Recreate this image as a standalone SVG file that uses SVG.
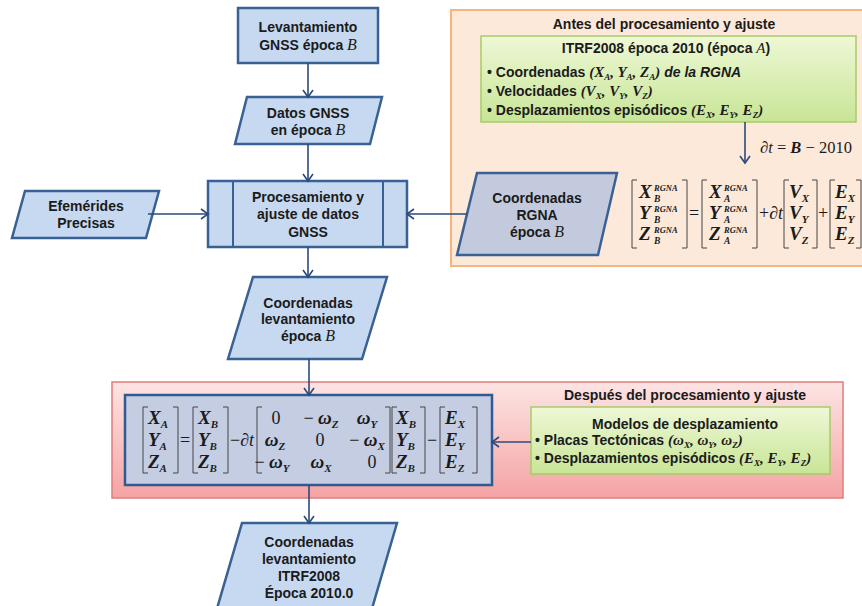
<svg xmlns="http://www.w3.org/2000/svg" width="862" height="606" viewBox="0 0 862 606">
<defs>
<style>
.n{fill:#C6D9F0;stroke:#3A6193;stroke-width:2.5}
.g{fill:#C4CADD;stroke:#3A6193;stroke-width:2.5}
.t{font-family:"Liberation Sans",Arial,sans-serif;font-weight:bold;font-size:14px;fill:#1b1b1b;text-anchor:middle}
.tl{font-family:"Liberation Sans",Arial,sans-serif;font-weight:bold;font-size:14px;fill:#1b1b1b}
.m{font-family:"Liberation Serif","Times New Roman",serif;font-style:italic}
.mbi{font-family:"Liberation Serif","Times New Roman",serif;font-style:italic;font-weight:bold}
.mb{font-family:"Liberation Serif","Times New Roman",serif;font-style:italic;font-weight:bold;font-size:19px;fill:#1b1b1b}
.mr{font-family:"Liberation Serif","Times New Roman",serif;font-style:normal;font-weight:normal;font-size:18px;fill:#1b1b1b}
.sp{font-family:"Liberation Serif","Times New Roman",serif;font-style:italic;font-weight:bold;font-size:8.5px;fill:#1b1b1b}
.sb{font-family:"Liberation Serif","Times New Roman",serif;font-style:italic;font-weight:bold;font-size:11px;fill:#1b1b1b}
.ss{font-family:"Liberation Serif","Times New Roman",serif;font-style:italic;font-weight:bold;font-size:9.5px;fill:#1b1b1b}
.br{fill:none;stroke:#444;stroke-width:1}
.c{stroke:#2C4A78;stroke-width:1.6;fill:none;marker-end:url(#ah)}
</style>
<marker id="ah" markerUnits="userSpaceOnUse" markerWidth="12" markerHeight="12" refX="10" refY="6" orient="auto">
<path d="M3,1 L10,6 L3,11" fill="none" stroke="#2C4A78" stroke-width="1.6"/>
</marker>
<linearGradient id="gg" x1="0" y1="0" x2="0" y2="1"><stop offset="0" stop-color="#EEF8D6"/><stop offset="1" stop-color="#C8E596"/></linearGradient>
<linearGradient id="rg" x1="0" y1="0" x2="0" y2="1"><stop offset="0" stop-color="#FDE4E4"/><stop offset="1" stop-color="#F5A3A3"/></linearGradient>
</defs>

<g id="antes">
<rect x="451" y="10" width="420" height="256" fill="#FDE9D9" stroke="#F8B47F" stroke-width="2"/>
<text class="t" x="664" y="29">Antes del procesamiento y ajuste</text>
</g>
<g id="itrf">
<rect x="481" y="36" width="375" height="86" fill="url(#gg)" stroke="#A6CC68" stroke-width="1.5"/>
<text class="t" x="666" y="53">ITRF2008 época 2010 (época <tspan class="m" font-weight="normal" font-size="15">A</tspan>)</text>
<text class="tl" x="487" y="77">• Coordenadas <tspan class="mbi" font-size="15">(X<tspan font-size="9" dy="3">A</tspan><tspan dy="-3">, Y</tspan><tspan font-size="9" dy="3">A</tspan><tspan dy="-3">, Z</tspan><tspan font-size="9" dy="3">A</tspan><tspan dy="-3">)</tspan></tspan><tspan font-style="italic"> de la RGNA</tspan></text>
<text class="tl" x="487" y="96">• Velocidades <tspan class="mbi" font-size="15">(V<tspan font-size="9" dy="3">X</tspan><tspan dy="-3">, V</tspan><tspan font-size="9" dy="3">Y</tspan><tspan dy="-3">, V</tspan><tspan font-size="9" dy="3">Z</tspan><tspan dy="-3">)</tspan></tspan></text>
<text class="tl" x="487" y="115">• Desplazamientos episódicos <tspan class="mbi" font-size="15">(E<tspan font-size="9" dy="3">X</tspan><tspan dy="-3">, E</tspan><tspan font-size="9" dy="3">Y</tspan><tspan dy="-3">, E</tspan><tspan font-size="9" dy="3">Z</tspan><tspan dy="-3">)</tspan></tspan></text>
</g>
<g id="dt">
<text class="mr" x="760" y="153" style="font-size:16.5px"><tspan class="m">∂t</tspan> = <tspan class="mbi">B</tspan> − 2010</text>
</g>
<g id="eq1">
<path class="br" d="M637,180 H632 V248 H637 M682,180 H687 V248 H682"/>
<text class="mb" x="639" y="198">X</text><text class="sp" x="654" y="191">RGNA</text><text class="ss" x="654" y="202">B</text>
<text class="mb" x="639" y="219">Y</text><text class="sp" x="654" y="212">RGNA</text><text class="ss" x="654" y="223">B</text>
<text class="mb" x="639" y="240">Z</text><text class="sp" x="654" y="233">RGNA</text><text class="ss" x="654" y="244">B</text>
<text class="mr" x="694" y="219" text-anchor="middle">=</text>
<path class="br" d="M707,180 H702 V248 H707 M752,180 H757 V248 H752"/>
<text class="mb" x="709" y="198">X</text><text class="sp" x="724" y="191">RGNA</text><text class="ss" x="724" y="202">A</text>
<text class="mb" x="709" y="219">Y</text><text class="sp" x="724" y="212">RGNA</text><text class="ss" x="724" y="223">A</text>
<text class="mb" x="709" y="240">Z</text><text class="sp" x="724" y="233">RGNA</text><text class="ss" x="724" y="244">A</text>
<text class="mr" x="759" y="219">+<tspan class="m">∂t</tspan></text>
<path class="br" d="M789,180 H784 V248 H789 M812,180 H817 V248 H812"/>
<text class="mb" x="789" y="198">V<tspan class="sb" dy="4">X</tspan></text>
<text class="mb" x="789" y="219">V<tspan class="sb" dy="4">Y</tspan></text>
<text class="mb" x="789" y="240">V<tspan class="sb" dy="4">Z</tspan></text>
<text class="mr" x="823" y="219" text-anchor="middle">+</text>
<path class="br" d="M835,180 H830 V248 H835 M856,180 H861 V248 H856"/>
<text class="mb" x="835" y="198">E<tspan class="sb" dy="4">X</tspan></text>
<text class="mb" x="835" y="219">E<tspan class="sb" dy="4">Y</tspan></text>
<text class="mb" x="835" y="240">E<tspan class="sb" dy="4">Z</tspan></text>
</g>

<g id="despues">
<rect x="112" y="382" width="731" height="116" fill="url(#rg)" stroke="#E07C7C" stroke-width="1.5"/>
<text class="t" x="685" y="400">Después del procesamiento y ajuste</text>
</g>
<g id="eq2">
<rect x="125" y="395" width="367" height="90" fill="#C5CDE3" stroke="#2F5A92" stroke-width="2.5"/>
<path class="br" d="M148,407 H143 V473 H148 M173,407 H178 V473 H173"/>
<text class="mb" x="148" y="424">X<tspan class="sb" dy="4">A</tspan></text>
<text class="mb" x="148" y="446">Y<tspan class="sb" dy="4">A</tspan></text>
<text class="mb" x="148" y="468">Z<tspan class="sb" dy="4">A</tspan></text>
<text class="mr" x="185" y="446" text-anchor="middle">=</text>
<path class="br" d="M198,407 H193 V473 H198 M223,407 H228 V473 H223"/>
<text class="mb" x="198" y="424">X<tspan class="sb" dy="4">B</tspan></text>
<text class="mb" x="198" y="446">Y<tspan class="sb" dy="4">B</tspan></text>
<text class="mb" x="198" y="468">Z<tspan class="sb" dy="4">B</tspan></text>
<text class="mr" x="230" y="446">−<tspan class="m">∂t</tspan></text>
<path class="br" d="M262,407 H257 V473 H262 M385,407 H390 V473 H385"/>
<text class="mr" x="276" y="424" text-anchor="middle">0</text>
<text class="mb" x="321" y="424" text-anchor="middle"><tspan class="mr">− </tspan>ω<tspan class="sb" dy="4">Z</tspan></text>
<text class="mb" x="367" y="424" text-anchor="middle">ω<tspan class="sb" dy="4">Y</tspan></text>
<text class="mb" x="275" y="446" text-anchor="middle">ω<tspan class="sb" dy="4">Z</tspan></text>
<text class="mr" x="320" y="446" text-anchor="middle">0</text>
<text class="mb" x="367" y="446" text-anchor="middle"><tspan class="mr">− </tspan>ω<tspan class="sb" dy="4">X</tspan></text>
<text class="mb" x="272" y="468" text-anchor="middle"><tspan class="mr">− </tspan>ω<tspan class="sb" dy="4">Y</tspan></text>
<text class="mb" x="321" y="468" text-anchor="middle">ω<tspan class="sb" dy="4">X</tspan></text>
<text class="mr" x="372" y="468" text-anchor="middle">0</text>
<path class="br" d="M397,407 H392 V473 H397 M420,407 H425 V473 H420"/>
<text class="mb" x="396" y="424">X<tspan class="sb" dy="4">B</tspan></text>
<text class="mb" x="396" y="446">Y<tspan class="sb" dy="4">B</tspan></text>
<text class="mb" x="396" y="468">Z<tspan class="sb" dy="4">B</tspan></text>
<text class="mr" x="432" y="446" text-anchor="middle">−</text>
<path class="br" d="M445,407 H440 V473 H445 M472,407 H477 V473 H472"/>
<text class="mb" x="445" y="424">E<tspan class="sb" dy="4">X</tspan></text>
<text class="mb" x="445" y="446">E<tspan class="sb" dy="4">Y</tspan></text>
<text class="mb" x="445" y="468">E<tspan class="sb" dy="4">Z</tspan></text>
</g>
<g id="modelos">
<rect x="531" y="407" width="299" height="67" fill="url(#gg)" stroke="#A6CC68" stroke-width="1.5"/>
<text class="t" x="685" y="429">Modelos de desplazamiento</text>
<text class="tl" x="535" y="445">• Placas Tectónicas <tspan class="mbi" font-size="15">(ω<tspan font-size="9" dy="3">X</tspan><tspan dy="-3">, ω</tspan><tspan font-size="9" dy="3">Y</tspan><tspan dy="-3">, ω</tspan><tspan font-size="9" dy="3">Z</tspan><tspan dy="-3">)</tspan></tspan></text>
<text class="tl" x="535" y="463">• Desplazamientos episódicos <tspan class="mbi" font-size="15">(E<tspan font-size="9" dy="3">X</tspan><tspan dy="-3">, E</tspan><tspan font-size="9" dy="3">Y</tspan><tspan dy="-3">, E</tspan><tspan font-size="9" dy="3">Z</tspan><tspan dy="-3">)</tspan></tspan></text>
</g>

<g id="levantamiento">
<rect class="n" x="238" y="8" width="140" height="55"/>
<text class="t" x="308" y="32">Levantamiento</text>
<text class="t" x="308" y="50">GNSS época <tspan class="m" font-weight="normal" font-size="16">B</tspan></text>
</g>
<g id="datos">
<polygon class="n" points="247,97 382,97 370,144 235,144"/>
<text class="t" x="308" y="118">Datos GNSS</text>
<text class="t" x="308" y="135">en época <tspan class="m" font-weight="normal" font-size="16">B</tspan></text>
</g>
<g id="efemerides">
<polygon class="n" points="25,191 159,191 146,238 12,238"/>
<text class="t" x="86" y="211">Efemérides</text>
<text class="t" x="86" y="228">Precisas</text>
</g>
<g id="procesamiento">
<rect class="n" x="208" y="181" width="199" height="66"/>
<path d="M233,181 V247 M383,181 V247" stroke="#3A6193" stroke-width="2"/>
<text class="t" x="308" y="202">Procesamiento y</text>
<text class="t" x="308" y="219">ajuste de datos</text>
<text class="t" x="308" y="237">GNSS</text>
</g>
<g id="rgna">
<polygon class="g" points="477,173 617,173 598,255 457,255"/>
<text class="t" x="537" y="203">Coordenadas</text>
<text class="t" x="537" y="220">RGNA</text>
<text class="t" x="537" y="237">época <tspan class="m" font-weight="normal" font-size="16">B</tspan></text>
</g>
<g id="coordB">
<polygon class="n" points="253,277 387,277 362,359 228,359"/>
<text class="t" x="308" y="308">Coordenadas</text>
<text class="t" x="308" y="324">levantamiento</text>
<text class="t" x="308" y="341">época <tspan class="m" font-weight="normal" font-size="16">B</tspan></text>
</g>
<g id="coordITRF">
<polygon class="n" points="242,523 397,523 371,612 216,612"/>
<text class="t" x="309" y="547">Coordenadas</text>
<text class="t" x="309" y="564">levantamiento</text>
<text class="t" x="309" y="581">ITRF2008</text>
<text class="t" x="309" y="598">Época 2010.0</text>
</g>

<g id="connectors">
<line class="c" x1="308" y1="63" x2="308" y2="97"/>
<line class="c" x1="308" y1="144" x2="308" y2="181"/>
<line class="c" x1="148" y1="214" x2="208" y2="214"/>
<line class="c" x1="467" y1="214" x2="407" y2="214"/>
<line class="c" x1="308" y1="247" x2="308" y2="277"/>
<line class="c" x1="309" y1="359" x2="309" y2="395"/>
<line class="c" x1="309" y1="485" x2="309" y2="523"/>
<line class="c" x1="531" y1="442" x2="492" y2="442"/>
<line class="c" x1="745" y1="122" x2="745" y2="163"/>
</g>
</svg>
